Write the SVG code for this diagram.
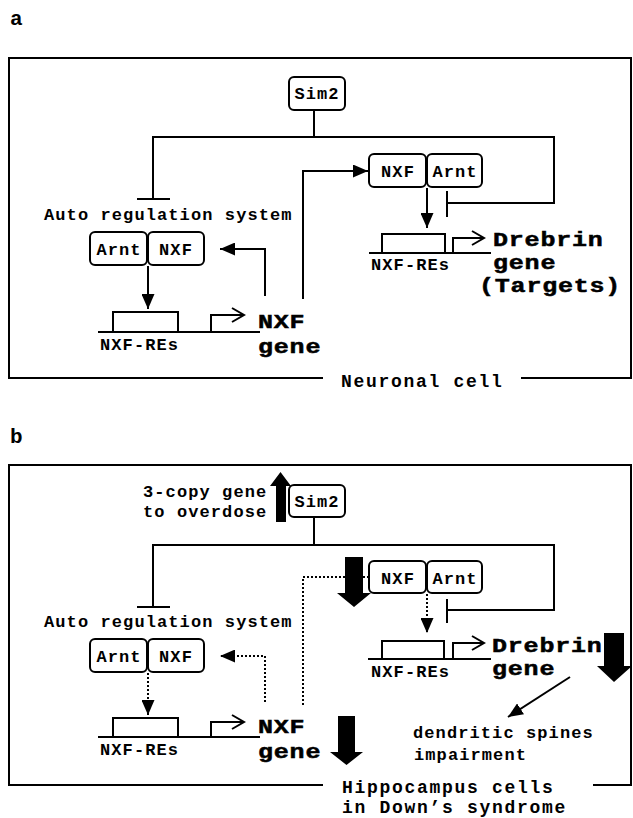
<svg xmlns="http://www.w3.org/2000/svg" width="633" height="818" viewBox="0 0 633 818">
<defs>
<style>
.t{font-family:"Liberation Mono","Courier New",monospace;font-weight:bold;fill:#000}
.s{font-size:17px;letter-spacing:1.1px}
.m{text-anchor:middle}
.big{font-size:20px;letter-spacing:0.64px;stroke:#000;stroke-width:0.5px}
.cap{font-size:18px;letter-spacing:1.7px}
.lab{font-size:21px}
.box{fill:#fff;stroke:#000;stroke-width:2}
.ln{fill:none;stroke:#000;stroke-width:2}
.dot{fill:none;stroke:#000;stroke-width:2;stroke-dasharray:2 2}
.blk{fill:#000;stroke:none}
</style>
<marker id="ah" markerUnits="userSpaceOnUse" viewBox="0 0 15 13" refX="15" refY="6.5" markerWidth="15" markerHeight="13" orient="auto"><path d="M0,0L15,6.5L0,13z" fill="#000"/></marker>
</defs>
<rect width="633" height="818" fill="#fff"/>

<!-- ========== Panel a ========== -->
<g id="panel-a">
<text class="t lab" x="10" y="25">a</text>
<g id="frame-a">
<path class="ln" d="M323,378H9V58H631V378H521"/>
<text class="t cap" x="341" y="387">Neuronal cell</text>
</g>
<g id="connectors-a">
<path class="ln" d="M314,110V137"/>
<path class="ln" d="M153,199V137H554V203H447"/>
<path class="ln" d="M137,199H170"/>
<path class="ln" d="M447,191V217"/>
<path class="ln" d="M148,266V309" marker-end="url(#ah)"/>
<path class="ln" d="M265,296V249H220" marker-end="url(#ah)"/>
<path class="ln" d="M303,299V171H368" marker-end="url(#ah)"/>
<path class="ln" d="M427,188V228" marker-end="url(#ah)"/>
</g>
<g id="sim2-a">
<rect class="box" x="289" y="77" width="56" height="33" rx="5"/>
<text class="t s m" x="317" y="99">Sim2</text>
</g>
<text id="auto-label-a" class="t s" x="44" y="220">Auto regulation system</text>
<g id="complex-left-a">
<rect class="box" x="90" y="232" width="57" height="33" rx="5"/>
<rect class="box" x="148" y="232" width="56" height="33" rx="5"/>
<text class="t s m" x="119" y="255">Arnt</text>
<text class="t s m" x="176" y="255">NXF</text>
</g>
<g id="complex-right-a">
<rect class="box" x="369" y="154" width="57" height="33" rx="5"/>
<rect class="box" x="427" y="154" width="55" height="33" rx="5"/>
<text class="t s m" x="398" y="177">NXF</text>
<text class="t s m" x="455" y="177">Arnt</text>
</g>
<g id="nxf-gene-a">
<path class="ln" d="M98,332H260"/>
<path class="ln" d="M113,332V312H178V332"/>
<path class="ln" d="M211,332V315H244"/>
<path class="ln" d="M232,308L244,315L232,322"/>
<text class="t s" x="100" y="350">NXF-REs</text>
<text class="t big" transform="translate(258,328) scale(1.25,1)">NXF</text>
<text class="t big" transform="translate(258,353) scale(1.25,1)">gene</text>
</g>
<g id="drebrin-gene-a">
<path class="ln" d="M369,253H491"/>
<path class="ln" d="M382,253V234H445V253"/>
<path class="ln" d="M453,253V238H484"/>
<path class="ln" d="M472,231L484,238L472,245"/>
<text class="t s" x="371" y="270">NXF-REs</text>
<text class="t big" transform="translate(493,246) scale(1.25,1)">Drebrin</text>
<text class="t big" transform="translate(493,269) scale(1.25,1)">gene</text>
<text class="t big" transform="translate(479,292) scale(1.25,1)">(Targets)</text>
</g>
</g>

<!-- ========== Panel b ========== -->
<g id="panel-b">
<text class="t lab" x="10" y="443">b</text>
<g id="frame-b">
<path class="ln" d="M323,785H9V465H631V785H593"/>
<text class="t cap" x="342" y="793">Hippocampus cells</text>
<text class="t cap" x="342" y="813">in Down’s syndrome</text>
</g>
<g id="connectors-b">
<path class="ln" d="M314,517V545"/>
<path class="ln" d="M153,607V545H554V610H447"/>
<path class="ln" d="M137,607H170"/>
<path class="ln" d="M447,599V623"/>
<path class="dot" d="M148,673V715" marker-end="url(#ah)"/>
<path class="dot" d="M265,702V656H220" marker-end="url(#ah)"/>
<path class="dot" d="M303,705V577H368"/>
<path class="dot" d="M427,594V633" marker-end="url(#ah)"/>
<path class="ln" d="M570,677L508,717" marker-end="url(#ah)"/>
</g>
<g id="sim2-b">
<rect class="box" x="289" y="485" width="56" height="32" rx="5"/>
<text class="t s m" x="317" y="507">Sim2</text>
<polygon class="blk" points="280.5,472 291,486 286,486 286,522 276,522 276,486 270,486"/>
<text class="t s" x="143" y="497">3-copy gene</text>
<text class="t s" x="143" y="517">to overdose</text>
</g>
<text id="auto-label-b" class="t s" x="44" y="627">Auto regulation system</text>
<g id="complex-left-b">
<rect class="box" x="90" y="639" width="57" height="33" rx="5"/>
<rect class="box" x="148" y="639" width="56" height="33" rx="5"/>
<text class="t s m" x="119" y="662">Arnt</text>
<text class="t s m" x="176" y="662">NXF</text>
</g>
<g id="complex-right-b">
<polygon class="blk" points="345,557 363,557 363,593 371,593 354,607 337,593 345,593"/>
<rect class="box" x="369" y="561" width="57" height="32" rx="5"/>
<rect class="box" x="427" y="561" width="55" height="32" rx="5"/>
<text class="t s m" x="398" y="584">NXF</text>
<text class="t s m" x="455" y="584">Arnt</text>
</g>
<g id="nxf-gene-b">
<path class="ln" d="M98,737H260"/>
<path class="ln" d="M113,737V718H178V737"/>
<path class="ln" d="M211,737V722H244"/>
<path class="ln" d="M232,715L244,722L232,729"/>
<text class="t s" x="100" y="755">NXF-REs</text>
<text class="t big" transform="translate(258,733) scale(1.25,1)">NXF</text>
<text class="t big" transform="translate(258,758) scale(1.25,1)">gene</text>
<polygon class="blk" points="338,716 355,716 355,752 363,752 346.5,765 330,752 338,752"/>
</g>
<g id="drebrin-gene-b">
<path class="ln" d="M368,659H491"/>
<path class="ln" d="M382,659V641H444V659"/>
<path class="ln" d="M453,659V643H484"/>
<path class="ln" d="M472,636L484,643L472,650"/>
<text class="t s" x="371" y="677">NXF-REs</text>
<text class="t big" transform="translate(492,652) scale(1.25,1)">Drebrin</text>
<text class="t big" transform="translate(492,675) scale(1.25,1)">gene</text>
<polygon class="blk" points="604,633 624,633 624,666 632,666 614,682 597,666 604,666"/>
</g>
<g id="spines-b">
<text class="t s" x="413" y="738">dendritic spines</text>
<text class="t s" x="414" y="760">impairment</text>
</g>
</g>
</svg>
